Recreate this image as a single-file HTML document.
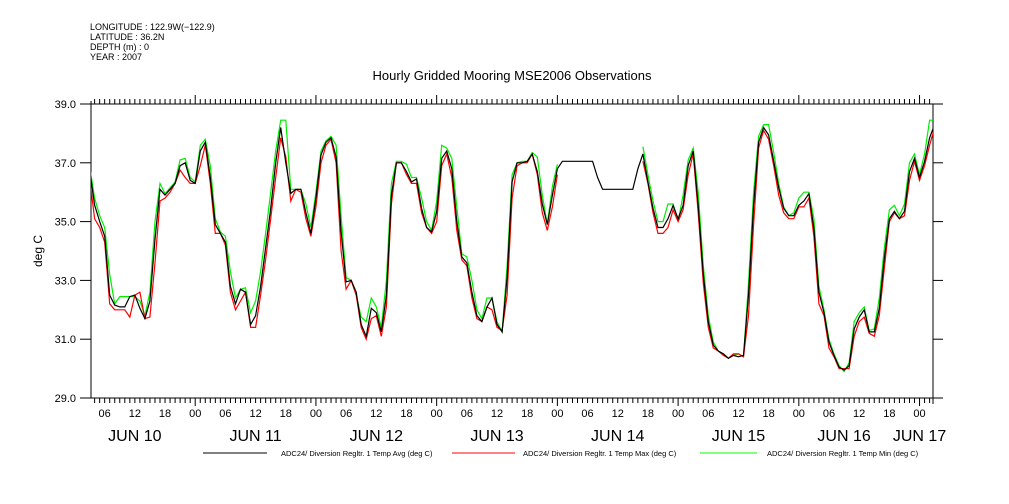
<!DOCTYPE html>
<html><head><meta charset="utf-8"><style>
html,body{margin:0;padding:0;background:#fff;}
svg{display:block;font-family:"Liberation Sans",sans-serif;}
</style></head><body>
<svg id="chart" width="1009" height="504" viewBox="0 0 1009 504" xmlns="http://www.w3.org/2000/svg">
<g font-size="9" fill="#000">
<text x="90" y="30">LONGITUDE : 122.9W(−122.9)</text>
<text x="90" y="40">LATITUDE : 36.2N</text>
<text x="90" y="50">DEPTH (m) : 0</text>
<text x="90" y="60">YEAR : 2007</text>
</g>
<text x="512" y="80" font-size="13" text-anchor="middle">Hourly Gridded Mooring MSE2006 Observations</text>
<text x="42" y="251" font-size="12" text-anchor="middle" transform="rotate(-90 42 251)">deg C</text>
<g id="axes"></g>
<g id="series" clip-path="url(#clip)"></g>
<defs><clipPath id="clip"><rect x="91" y="104" width="842" height="294"/></clipPath></defs>
<g font-size="7.5">
<line x1="203" y1="453" x2="267" y2="453" stroke="#000"/>
<text x="281" y="456">ADC24/ Diversion Regltr. 1 Temp Avg (deg C)</text>
<line x1="452" y1="453" x2="515" y2="453" stroke="#f00"/>
<text x="523" y="456">ADC24/ Diversion Regltr. 1 Temp Max (deg C)</text>
<line x1="700" y1="453" x2="757" y2="453" stroke="#0f0"/>
<text x="767" y="456">ADC24/ Diversion Regltr. 1 Temp Min (deg C)</text>
</g>
</svg>
<script>
const startHour = 3;
const avgValues = [36.76,35.56,35.0,34.5,32.5,32.16,32.1,32.1,32.45,32.5,32.05,31.7,32.3,34.4,36.1,35.9,36.1,36.3,36.9,37.0,36.4,36.3,37.4,37.7,36.5,34.9,34.6,34.3,32.8,32.2,32.7,32.6,31.5,31.8,32.8,34.1,35.45,37.0,38.2,37.0,35.96,36.1,36.1,35.3,34.6,35.8,37.27,37.7,37.85,37.2,34.65,32.95,33.0,32.6,31.5,31.1,32.05,31.9,31.25,32.5,35.9,37.0,37.0,36.7,36.35,36.45,35.45,34.8,34.65,35.35,37.15,37.4,36.8,35.0,33.8,33.6,32.6,31.8,31.6,32.1,32.4,31.5,31.25,33.1,36.35,37.0,37.0,37.05,37.3,36.7,35.6,34.9,35.9,36.8,37.05,37.05,37.05,37.05,37.05,37.05,37.05,36.5,36.1,36.1,36.1,36.1,36.1,36.1,36.1,36.8,37.3,36.35,35.45,34.8,34.8,35.1,35.55,35.1,35.55,36.9,37.4,35.55,33.2,31.6,30.8,30.6,30.5,30.35,30.45,30.4,30.45,32.5,35.55,37.7,38.2,37.95,37.05,36.15,35.45,35.2,35.2,35.55,35.7,35.95,34.77,32.6,31.9,30.9,30.45,30.05,29.95,30.1,31.35,31.75,32.0,31.25,31.25,32.05,33.75,35.1,35.35,35.1,35.35,36.7,37.15,36.5,37.05,37.85,38.3];
const maxValues = [36.9,35.8,35.2,34.8,33.2,32.2,32.45,32.45,32.45,32.45,32.3,31.8,32.6,35.0,36.3,35.95,36.15,36.35,37.1,37.15,36.5,36.35,37.6,37.8,36.9,35.1,34.65,34.5,33.3,32.4,32.7,32.75,31.9,32.3,33.3,34.6,36.0,37.4,38.45,38.45,36.1,36.1,36.1,35.6,34.8,36.0,37.4,37.75,37.9,37.6,35.2,33.1,33.0,32.5,31.75,31.6,32.4,32.1,31.4,33.0,36.3,37.05,37.05,36.95,36.5,36.5,35.8,35.0,34.7,35.7,37.6,37.5,37.15,35.5,33.9,33.8,33.0,32.0,31.7,32.4,32.4,31.6,31.25,33.5,36.6,37.0,37.05,37.05,37.35,37.2,35.9,34.9,36.2,36.95,null,null,null,null,null,null,null,null,null,null,null,null,null,null,null,null,37.55,36.6,35.7,35.0,35.0,35.6,35.6,35.0,35.9,37.1,37.5,36.0,33.5,31.8,30.9,30.6,30.5,30.35,30.45,30.5,30.4,32.9,36.0,37.9,38.3,38.3,37.35,36.3,35.5,35.2,35.3,35.8,36.0,36.0,35.1,32.8,32.0,31.0,30.5,30.1,29.9,30.2,31.6,31.9,32.1,31.3,31.35,32.4,34.1,35.4,35.55,35.2,35.6,37.0,37.3,36.6,37.3,38.45,38.45];
const minValues = [36.5,35.1,34.8,34.3,32.2,32.0,32.0,32.0,31.75,32.5,32.6,31.7,31.75,33.6,35.7,35.8,36.0,36.3,36.75,36.5,36.3,36.3,36.9,37.6,36.3,34.6,34.6,34.2,32.6,32.0,32.3,32.6,31.4,31.4,32.5,33.7,35.1,36.5,37.85,37.2,35.7,36.1,36.0,35.1,34.5,35.5,37.0,37.6,37.8,37.0,34.0,32.7,33.0,32.5,31.4,31.0,31.7,31.8,31.1,32.1,35.6,37.0,37.0,36.6,36.3,36.3,35.3,34.8,34.6,35.0,36.9,37.3,36.5,34.7,33.7,33.5,32.4,31.7,31.6,32.1,32.0,31.4,31.3,32.5,35.8,36.9,37.0,37.0,37.3,36.6,35.3,34.7,35.5,36.6,null,null,null,null,null,null,null,null,null,null,null,null,null,null,null,null,37.05,36.3,35.3,34.6,34.6,34.8,35.4,35.0,35.4,36.6,37.3,35.3,32.9,31.4,30.7,30.6,30.45,30.35,30.5,30.5,30.4,31.8,34.9,37.5,38.1,37.8,36.9,35.9,35.3,35.1,35.1,35.5,35.5,35.8,34.5,32.2,31.8,30.7,30.4,30.0,30.0,30.0,31.1,31.6,31.75,31.2,31.1,31.8,33.4,35.0,35.3,35.1,35.2,36.4,37.05,36.4,36.9,37.6,38.2];
const yTicks = [29.0,31.0,33.0,35.0,37.0,39.0];
const dayLabels = ["JUN 10","JUN 11","JUN 12","JUN 13","JUN 14","JUN 15","JUN 16","JUN 17"];
const hourLabels = ["00","06","12","18"];

const NS = "http://www.w3.org/2000/svg";
const L = 91, R = 933, T = 104, B = 398;
function xs(h){ return 74.5 + h*5.03; }
function ys(v){ return T + (39 - v)*(B - T)/10; }
function mk(tag, attrs, parent){ const e=document.createElementNS(NS,tag); for(const k in attrs) e.setAttribute(k,attrs[k]); parent.appendChild(e); return e; }

const axes = document.getElementById('axes');
mk('line',{x1:L,y1:T,x2:R,y2:T,stroke:'#000'},axes);
mk('line',{x1:L,y1:B,x2:943,y2:B,stroke:'#000'},axes);
mk('line',{x1:L,y1:T-3,x2:L,y2:B,stroke:'#000'},axes);
mk('line',{x1:R,y1:T,x2:R,y2:B+6,stroke:'#000'},axes);
yTicks.forEach(v=>{
  const y=ys(v);
  const t=mk('line',{x1:80,y1:y,x2:L,y2:y,stroke:'#000'},axes);
  
  
  mk('line',{x1:R,y1:y,x2:943,y2:y,stroke:'#000'},axes);
  const lb=mk('text',{x:76,y:y+4,'font-size':11,'text-anchor':'end'},axes);
  lb.textContent=v.toFixed(1);
  
  
});
for(let h=4; h<=170; h++){
  const x=xs(h); const major=(h%24===0);
  mk('line',{x1:x,y1:T,x2:x,y2:T-(major?9:5),stroke:'#000'},axes);
  mk('line',{x1:x,y1:B,x2:x,y2:B+(major?8:5),stroke:'#000'},axes);
  if(h%6===0){
    const lb=mk('text',{x:x,y:417,'font-size':11,'text-anchor':'middle'},axes);
    lb.textContent=hourLabels[(h%24)/6];
    
    
  }
}
dayLabels.forEach((d,i)=>{
  let x = xs(i*24+12);
  if(i===6) x = xs(i*24+9);
  if(i===7) x = xs(i*24+0);
  const lb=mk('text',{x:x,y:441,'font-size':16,'text-anchor':'middle'},axes);
  lb.textContent=d;
  
  
});

const series = document.getElementById('series');
function draw(vals, color, name){
  let segs=[], cur=[];
  vals.forEach((v,i)=>{
    if(v===null){ if(cur.length) segs.push(cur); cur=[]; }
    else cur.push(xs(startHour+i).toFixed(1)+','+ys(v).toFixed(1));
  });
  if(cur.length) segs.push(cur);
  segs.forEach(s=>{
    const p=mk('polyline',{points:s.join(' '),fill:'none',stroke:color,'stroke-width':1.2},series);
    
    
  });
}
draw(maxValues,'#00ee00','max-temp-line');
draw(minValues,'#ff0000','min-temp-line');
draw(avgValues,'#000000','avg-temp-line');
</script>
</body></html>
